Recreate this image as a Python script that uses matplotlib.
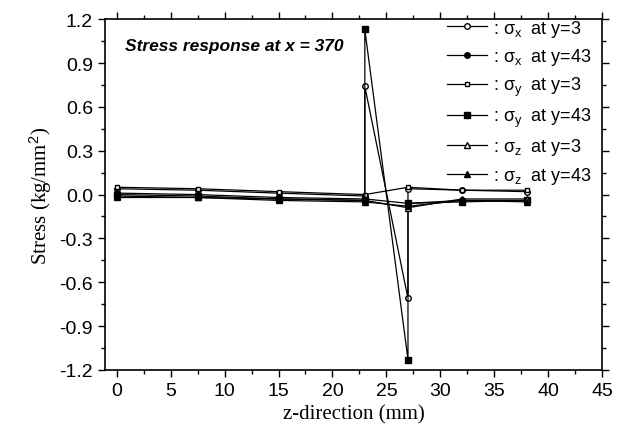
import matplotlib.pyplot as plt
from matplotlib.ticker import MultipleLocator

# --- data ---
z = [0, 7.5, 15, 23, 27, 32, 38]
z_jump = [0, 7.5, 15, 23, 23, 27, 27, 32, 38]

sx_y3 = [0.04, 0.03, 0.01, -0.01, 0.74, -0.71, 0.04, 0.03, 0.02]
sx_y43 = [0.01, 0.00, -0.02, -0.03, -0.06, -0.04, -0.04]
sy_y3 = [0.05, 0.04, 0.02, 0.00, 0.05, 0.03, 0.03]
sy_y43 = [0.00, -0.01, -0.03, -0.04, 1.13, -1.13, -0.06, -0.05, -0.04]
sz_y3 = [-0.01, -0.02, -0.03, -0.04, -0.09, -0.03, -0.03]
sz_y43 = [-0.02, -0.02, -0.04, -0.05, -0.08, -0.04, -0.05]

labels = [": $\\sigma_x$  at y=3", ": $\\sigma_x$  at y=43",
          ": $\\sigma_y$  at y=3", ": $\\sigma_y$  at y=43",
          ": $\\sigma_z$  at y=3", ": $\\sigma_z$  at y=43"]

plt.rcParams['font.family'] = ['Liberation Sans', 'DejaVu Sans']
plt.rcParams['mathtext.fontset'] = 'custom'
plt.rcParams['mathtext.rm'] = 'Liberation Sans'
plt.rcParams['mathtext.it'] = 'Liberation Sans'

fig = plt.figure(figsize=(6.24, 4.39), dpi=100)
ax = fig.add_axes([0.168, 0.155, 0.797, 0.799])

ax.plot(z_jump, sx_y3, '-', color='black', lw=0.9, marker='o', ms=4,
        mfc='white', mec='black', label=labels[0])
ax.plot(z, sx_y43, '-', color='black', lw=0.9, marker='o', ms=4,
        mfc='black', mec='black', label=labels[1])
ax.plot(z, sy_y3, '-', color='black', lw=0.9, marker='s', ms=3.5,
        mfc='white', mec='black', label=labels[2])
ax.plot(z_jump, sy_y43, '-', color='black', lw=0.9, marker='s', ms=4,
        mfc='black', mec='black', label=labels[3])
ax.plot(z, sz_y3, '-', color='black', lw=0.9, marker='^', ms=4,
        mfc='white', mec='black', label=labels[4])
ax.plot(z, sz_y43, '-', color='black', lw=0.9, marker='^', ms=4,
        mfc='black', mec='black', label=labels[5])

ax.set_xlim(-1.1, 45)
ax.set_ylim(-1.2, 1.2)
ax.xaxis.set_major_locator(MultipleLocator(5))
ax.xaxis.set_minor_locator(MultipleLocator(2.5))
ax.yaxis.set_major_locator(MultipleLocator(0.3))
ax.yaxis.set_minor_locator(MultipleLocator(0.15))
ax.set_yticklabels([f"{v:.1f}" for v in ax.get_yticks()])

ax.tick_params(axis='both', which='major', direction='out', length=5,
               width=1, labelsize=14)
ax.tick_params(axis='both', which='minor', direction='out', length=3, width=1)
ax.tick_params(top=True, right=True, which='both')
for sp in ax.spines.values():
    sp.set_linewidth(1.2)

ax.set_xlabel("z-direction (mm)", family='Liberation Serif', fontsize=15)
ax.set_ylabel("Stress (kg/mm$^2$)", family='Liberation Serif', fontsize=15)

ax.text(0.04, 0.925, "Stress response at x = 370", transform=ax.transAxes,
        fontsize=12.5, fontweight='bold', fontstyle='italic', va='center')

ax.legend(loc='upper right', bbox_to_anchor=(1.0, 1.035), frameon=False,
          fontsize=13, handlelength=2.2, handletextpad=0.3,
          labelspacing=0.42, borderaxespad=0.2, numpoints=1)

plt.savefig("out.png", dpi=100)
